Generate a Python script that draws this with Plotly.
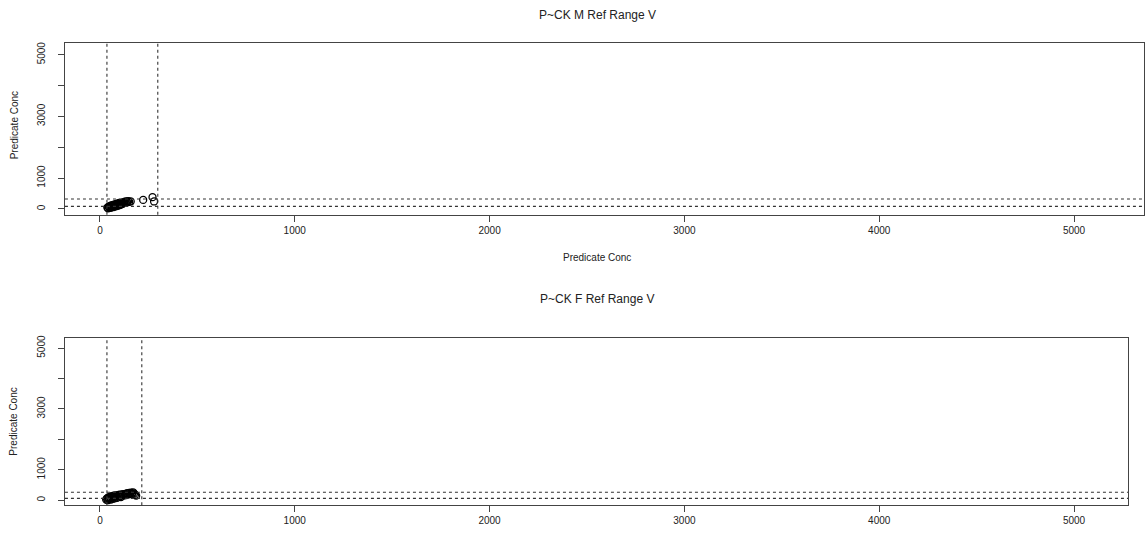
import plotly.graph_objects as go

# ---- data ----
m_x = [38, 42, 45, 48, 50, 53, 55, 58, 60, 62, 65, 68, 70, 72, 75, 78, 80, 83, 86, 88, 90, 93, 95, 98,
       100, 103, 106, 110, 113, 116, 120, 124, 128, 132, 136, 140, 145, 150, 158, 222, 270, 278]
m_y = [40, 20, 70, 45, 90, 60, 35, 110, 75, 55, 120, 95, 60, 140, 100, 80, 150, 115, 90, 170, 130, 105,
       160, 190, 140, 120, 175, 150, 200, 165, 210, 185, 230, 195, 240, 210, 250, 225, 240, 290, 380, 240]
f_x = [32, 36, 40, 43, 46, 50, 53, 56, 60, 63, 66, 70, 73, 76, 80, 84, 88, 92, 96, 100, 104, 108,
       112, 116, 120, 125, 130, 135, 140, 145, 150, 155, 160, 165, 170, 175, 180, 186]
f_y = [20, 60, 0, 90, 40, 110, 70, 20, 130, 90, 50, 150, 100, 60, 160, 120, 80, 170, 130, 180, 140, 100,
       190, 150, 200, 160, 210, 170, 230, 190, 240, 200, 250, 210, 260, 220, 180, 150]

m_vlines = [36, 297]
m_hlines = [80, 320]
f_vlines = [36, 215]
f_hlines = [60, 260]

x_ticks = [0, 1000, 2000, 3000, 4000, 5000]
x_ticktext = ["0", "1000", "2000", "3000", "4000", "5000"]
y_ticks = [0, 1000, 2000, 3000, 4000, 5000]
y_ticktext = ["0", "1000", "", "3000", "", "5000"]

titles = ["P~CK M Ref Range V", "P~CK F Ref Range V"]
axis_label = "Predicate Conc"

W, H = 1145, 537
INK = "#222222"
FONT = "Liberation Sans, Arial, sans-serif"

fig = go.Figure()
mk = dict(symbol="circle-open", size=7, color="black", line=dict(width=1.3, color="black"))
fig.add_trace(go.Scatter(x=m_x, y=m_y, mode="markers", marker=mk, xaxis="x", yaxis="y", showlegend=False))
fig.add_trace(go.Scatter(x=f_x, y=f_y, mode="markers", marker=mk, xaxis="x2", yaxis="y2", showlegend=False))

def px_x(p):
    return p / W

def px_y(p):
    return 1 - p / H

common_axis = dict(
    showgrid=False, zeroline=False, showline=True, mirror=True, linecolor="#444444", linewidth=1.3,
    ticks="outside", ticklen=6, tickcolor="#444444", tickwidth=1,
    tickfont=dict(size=10, color=INK, family=FONT),
)

fig.update_layout(
    width=W, height=H, margin=dict(l=0, r=0, t=0, b=0),
    paper_bgcolor="white", plot_bgcolor="white",
    font=dict(family=FONT, color=INK),
    xaxis=dict(common_axis, domain=[px_x(65), 1.0], range=[-179.5, 5359], anchor="y",
               tickvals=x_ticks, ticktext=x_ticktext),
    yaxis=dict(common_axis, domain=[px_y(213), px_y(40)], range=[-193.5, 5387], anchor="x",
               tickvals=y_ticks, ticktext=y_ticktext, tickangle=-90, ticklabelstandoff=9),
    xaxis2=dict(common_axis, domain=[px_x(65), px_x(1129)], range=[-179.5, 5277], anchor="y2",
                tickvals=x_ticks, ticktext=x_ticktext),
    yaxis2=dict(common_axis, domain=[px_y(505), px_y(337)], range=[-163, 5327], anchor="x2",
                tickvals=y_ticks, ticktext=y_ticktext, tickangle=-90, ticklabelstandoff=9),
)

dash = dict(color="#333333", width=1.1, dash="3px,3px")
shapes = []
for xa, ya, vls, hls in [("x", "y", m_vlines, m_hlines), ("x2", "y2", f_vlines, f_hlines)]:
    for v in vls:
        shapes.append(dict(type="line", xref=xa, yref=ya + " domain", x0=v, x1=v, y0=0, y1=1, line=dash))
    for h in hls:
        shapes.append(dict(type="line", xref=xa + " domain", yref=ya, x0=0, x1=1, y0=h, y1=h, line=dash))
fig.update_layout(shapes=shapes)

ann = []
ann.append(dict(text=titles[0], x=px_x(598), y=px_y(12), xref="paper", yref="paper", showarrow=False,
                font=dict(size=12, color=INK), xanchor="center", yanchor="middle"))
ann.append(dict(text=titles[1], x=px_x(598), y=px_y(298), xref="paper", yref="paper", showarrow=False,
                font=dict(size=12, color=INK), xanchor="center", yanchor="middle"))
ann.append(dict(text=axis_label, x=px_x(598), y=px_y(256), xref="paper", yref="paper", showarrow=False,
                font=dict(size=10, color=INK), xanchor="center", yanchor="middle"))
for yc in (123, 421):
    ann.append(dict(text=axis_label, x=px_x(14), y=px_y(yc), xref="paper", yref="paper", showarrow=False,
                    textangle=-90, font=dict(size=10, color=INK), xanchor="center", yanchor="middle"))
fig.update_layout(annotations=ann)

fig.write_html("out.html", config={"displayModeBar": False},
               post_script="document.body.style.margin='0px';")
